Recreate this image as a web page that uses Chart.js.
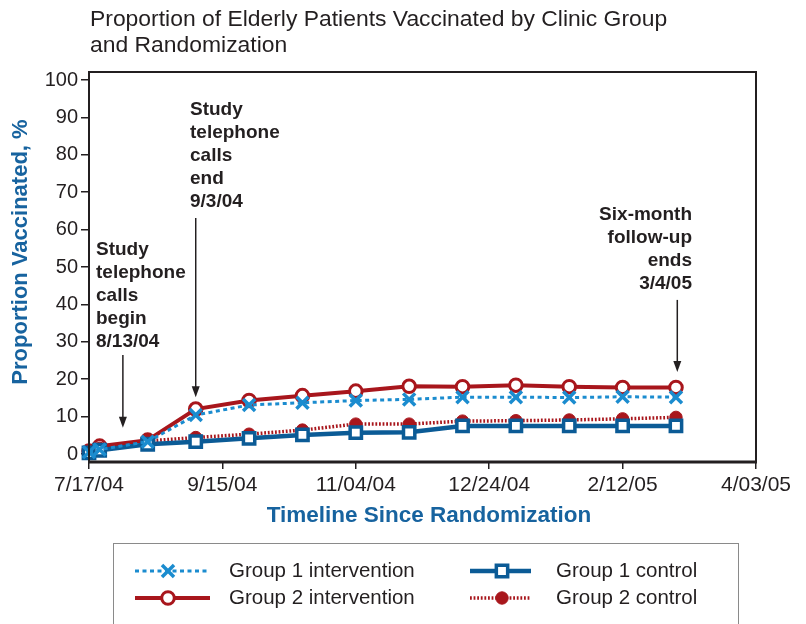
<!DOCTYPE html>
<html>
<head>
<meta charset="utf-8">
<script src="https://cdn.jsdelivr.net/npm/chart.js@4.4.1/dist/chart.umd.min.js"></script>
<style>
  html, body { margin: 0; padding: 0; background: #fff; }
  #wrap { width: 806px; height: 624px; position: relative; }
</style>
</head>
<body>
<div id="wrap"><canvas id="chart" width="806" height="624"></canvas></div>
<script>
// days since randomization (7/17/04 = day 0)
var days = [0, 4, 22, 40, 60, 80, 100, 120, 140, 160, 180, 200, 220];

var group1Intervention = [0.5, 1.2, 3.3, 10.4, 13.1, 13.7, 14.3, 14.6, 15.2, 15.2, 15.1, 15.3, 15.2];
var group2Intervention = [0.8, 2.1, 3.7, 12.0, 14.3, 15.6, 16.8, 18.1, 18.0, 18.4, 18.0, 17.8, 17.8];
var group1Control = [0.3, 1.0, 2.6, 3.3, 4.2, 5.1, 5.7, 5.8, 7.5, 7.5, 7.5, 7.5, 7.5];
var group2Control = [0.8, 1.5, 3.5, 4.4, 5.3, 6.4, 8.0, 8.0, 8.8, 8.9, 9.1, 9.4, 9.8];

var xTickDays = [0, 50, 100, 150, 200, 250];
var xTickLabels = ['7/17/04', '9/15/04', '11/04/04', '12/24/04', '2/12/05', '4/03/05'];
var yTickValues = [0, 10, 20, 30, 40, 50, 60, 70, 80, 90, 100];

// arrows: [day, from %, to %]
var arrows = [[12.7, 26.5, 7.0], [40, 63.1, 15.2], [220.5, 41.2, 21.9]];

var TEXT = '#231f20';
var RED = '#a8161c';
var DARKBLUE = '#0b5b96';
var LIGHTBLUE = '#1b8ccf';
var AXISBLUE = '#17639f';
var FONT = '"Liberation Sans", Arial, sans-serif';

function pts(vals) {
  var out = [];
  for (var i = 0; i < days.length; i++) out.push({ x: days[i], y: vals[i] });
  return out;
}

var datasets = [
  {
    label: 'Group 1 intervention',
    data: pts(group1Intervention),
    borderColor: LIGHTBLUE, borderWidth: 3, borderDash: [4, 3.5],
    pointStyle: 'crossRot', pointRadius: 8.5, pointBorderWidth: 3.5,
    pointBorderColor: LIGHTBLUE, pointBackgroundColor: LIGHTBLUE
  },
  {
    label: 'Group 1 control',
    data: pts(group1Control),
    borderColor: DARKBLUE, borderWidth: 4.5,
    pointStyle: 'rect', pointRadius: 8, pointBorderWidth: 3.5,
    pointBorderColor: DARKBLUE, pointBackgroundColor: '#ffffff'
  },
  {
    label: 'Group 2 control',
    data: pts(group2Control),
    borderColor: RED, borderWidth: 3.5, borderDash: [1.8, 1.8],
    pointStyle: 'circle', pointRadius: 6.2, pointBorderWidth: 1,
    pointBorderColor: RED, pointBackgroundColor: RED
  },
  {
    label: 'Group 2 intervention',
    data: pts(group2Intervention),
    borderColor: RED, borderWidth: 4,
    pointStyle: 'circle', pointRadius: 6.3, pointBorderWidth: 3,
    pointBorderColor: RED, pointBackgroundColor: '#ffffff'
  }
];

// legend order as in the picture: [datasetIndex, column, row]
var legendOrder = [[0, 0, 0], [3, 0, 1], [1, 1, 0], [2, 1, 1]];

function drawMarker(ctx, ds, x, y) {
  Chart.helpers.drawPoint(ctx, {
    pointStyle: ds.pointStyle,
    radius: ds.pointRadius,
    borderWidth: ds.pointBorderWidth,
    rotation: 0
  }, x, y);
}

var extras = {
  id: 'extras',
  afterDraw: function (chart) {
    var ctx = chart.ctx;
    var a = chart.chartArea;
    var xs = chart.scales.x, ys = chart.scales.y;
    ctx.save();

    // box around plot
    ctx.strokeStyle = TEXT;
    ctx.lineWidth = 2;
    ctx.strokeRect(a.left, a.top, a.right - a.left, a.bottom - a.top);
    ctx.lineWidth = 3;
    ctx.beginPath();
    ctx.moveTo(a.left - 1, a.bottom);
    ctx.lineTo(a.right + 1, a.bottom);
    ctx.stroke();

    // title
    ctx.fillStyle = TEXT;
    ctx.font = '22.9px ' + FONT;
    ctx.textBaseline = 'middle';
    ctx.textAlign = 'left';
    ctx.fillText('Proportion of Elderly Patients Vaccinated by Clinic Group', 90, 20);
    ctx.fillText('and Randomization', 90, 46);

    // axis titles
    ctx.fillStyle = AXISBLUE;
    ctx.font = 'bold 22.5px ' + FONT;
    ctx.textAlign = 'center';
    ctx.fillText('Timeline Since Randomization', 429, 516);
    ctx.save();
    ctx.translate(21, 252);
    ctx.rotate(-Math.PI / 2);
    ctx.font = 'bold 22px ' + FONT;
    ctx.fillText('Proportion Vaccinated, %', 0, 0);
    ctx.restore();

    // annotations
    ctx.fillStyle = TEXT;
    ctx.font = 'bold 19px ' + FONT;
    var notes = [
      { x: 96, y: 250, align: 'left', lines: ['Study', 'telephone', 'calls', 'begin', '8/13/04'] },
      { x: 190, y: 110, align: 'left', lines: ['Study', 'telephone', 'calls', 'end', '9/3/04'] },
      { x: 692, y: 215, align: 'right', lines: ['Six-month', 'follow-up', 'ends', '3/4/05'] }
    ];
    notes.forEach(function (n) {
      ctx.textAlign = n.align;
      n.lines.forEach(function (t, i) { ctx.fillText(t, n.x, n.y + i * 23); });
    });

    // arrows
    ctx.strokeStyle = TEXT;
    ctx.lineWidth = 1.5;
    arrows.forEach(function (ar) {
      var px = xs.getPixelForValue(ar[0]);
      var y1 = ys.getPixelForValue(ar[1]);
      var y2 = ys.getPixelForValue(ar[2]);
      ctx.beginPath();
      ctx.moveTo(px, y1);
      ctx.lineTo(px, y2 - 8);
      ctx.stroke();
      ctx.beginPath();
      ctx.moveTo(px - 4, y2 - 11);
      ctx.lineTo(px + 4, y2 - 11);
      ctx.lineTo(px, y2);
      ctx.closePath();
      ctx.fill();
    });

    // legend
    ctx.strokeStyle = '#8a8a8a';
    ctx.lineWidth = 1;
    ctx.strokeRect(113.5, 543.5, 625, 100);
    ctx.font = '20.5px ' + FONT;
    ctx.textAlign = 'left';
    legendOrder.forEach(function (e) {
      var ds = chart.data.datasets[e[0]];
      var x0 = e[1] === 0 ? 135 : 470;
      var x1 = e[1] === 0 ? 210 : 531;
      var xm = e[1] === 0 ? 168 : 502;
      var y0 = e[2] === 0 ? 571 : 598;
      ctx.save();
      ctx.strokeStyle = ds.borderColor;
      ctx.lineWidth = ds.borderWidth;
      ctx.setLineDash(ds.borderDash || []);
      ctx.beginPath();
      ctx.moveTo(x0, y0);
      ctx.lineTo(x1, y0);
      ctx.stroke();
      ctx.setLineDash([]);
      ctx.strokeStyle = ds.pointBorderColor;
      ctx.fillStyle = ds.pointBackgroundColor;
      ctx.lineWidth = ds.pointBorderWidth;
      drawMarker(ctx, ds, xm, y0);
      ctx.restore();
      ctx.fillStyle = TEXT;
      ctx.fillText(ds.label, e[1] === 0 ? 229 : 556, y0);
    });

    ctx.restore();
  }
};

new Chart(document.getElementById('chart'), {
  type: 'line',
  data: { datasets: datasets },
  options: {
    responsive: false,
    animation: false,
    layout: { padding: { left: 0, right: 50, top: 72, bottom: 92 } },
    datasets: { line: { clip: false, tension: 0 } },
    plugins: { legend: { display: false }, tooltip: { enabled: false }, title: { display: false } },
    scales: {
      x: {
        type: 'linear', min: 0, max: 250,
        afterBuildTicks: function (s) { s.ticks = xTickDays.map(function (v) { return { value: v }; }); },
        afterFit: function (s) { s.height = 70; },
        ticks: {
          color: TEXT, font: { family: FONT, size: 21 }, padding: 4, maxRotation: 0,
          callback: function (v) { return xTickLabels[xTickDays.indexOf(v)]; }
        },
        grid: { drawOnChartArea: false, tickLength: 7, color: TEXT, lineWidth: 1.5 },
        border: { display: false }
      },
      y: {
        min: -2.14, max: 102.14,
        afterBuildTicks: function (s) { s.ticks = yTickValues.map(function (v) { return { value: v }; }); },
        afterFit: function (s) { s.width = 89; },
        ticks: { color: TEXT, font: { family: FONT, size: 20 }, padding: 3 },
        grid: { drawOnChartArea: false, tickLength: 8, color: TEXT, lineWidth: 1.5 },
        border: { display: false }
      }
    }
  },
  plugins: [extras]
});
</script>
</body>
</html>
